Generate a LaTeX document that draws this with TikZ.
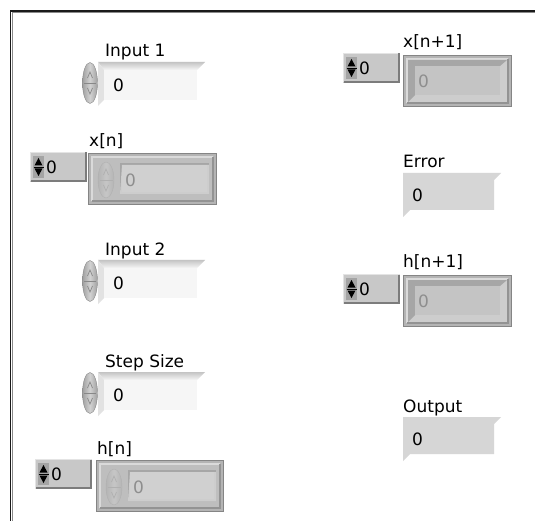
\documentclass[tikz,border=0pt]{standalone}
\usepackage{fontspec}
\setmainfont{DejaVu Sans}

% panel palette
\definecolor{panelline}{HTML}{1A1A1A}
\definecolor{panelgray}{HTML}{8A8A8A}
\definecolor{ctlfield}{HTML}{F6F6F6}
\definecolor{ctltop}{HTML}{C4C4C4}
\definecolor{ctlside}{HTML}{E2E2E2}
\definecolor{indfield}{HTML}{D6D6D6}
\definecolor{spinlight}{HTML}{D2D2D2}
\definecolor{spindark}{HTML}{A0A0A0}
\definecolor{spinedge}{HTML}{888888}
\definecolor{framefill}{HTML}{B4B4B4}
\definecolor{frameedge}{HTML}{858585}
\definecolor{framelight}{HTML}{DADADA}
\definecolor{framedark}{HTML}{939393}
\definecolor{framein}{HTML}{BEBEBE}
\definecolor{dimfield}{HTML}{D0D0D0}
\definecolor{dimtext}{HTML}{8E8E8E}
\definecolor{dimspin}{HTML}{C6C6C6}
\definecolor{dimspinedge}{HTML}{B0B0B0}
\definecolor{idxfill}{HTML}{C8C8C8}
\definecolor{idxcol}{HTML}{A4A4A4}
\definecolor{idxdark}{HTML}{7C7C7C}
\definecolor{idxlight}{HTML}{E4E4E4}
\definecolor{sunkdark}{HTML}{A6A6A6}
\definecolor{sunklight}{HTML}{CDCDCD}
\definecolor{sunkin}{HTML}{C4C4C4}

% spinner knob: centre x, centre y, x radius, y radius, light, dark, edge
\newcommand{\uiSpin}[7]{%
  \shade[left color=#6, right color=#6, middle color=#5, draw=#7]
    (#1,#2) ellipse [x radius=#3, y radius=#4];
  \draw[#7, line width=0.7pt] (#1-#3+1.5,#2) -- (#1+#3-1.5,#2);
  \draw[#7, line width=0.7pt] (#1-2.5,#2-5) -- (#1,#2-11) -- (#1+2.5,#2-5);
  \draw[#7, line width=0.7pt] (#1-2.5,#2+5) -- (#1,#2+11) -- (#1+2.5,#2+5);
}

% numeric control: name, top of field, label
\newcommand{\uiControl}[3]{%
  \node[lbl] (#1-lbl) at (105,#2-5) {#3};
  \shade[top color=ctltop, bottom color=ctlfield]
    (98,#2) -- (205,#2) -- (197,#2+8) -- (104,#2+8) -- cycle;
  \fill[ctlside] (98,#2) -- (104,#2+8) -- (104,#2+38) -- (98,#2+44) -- cycle;
  \fill[ctlfield] (104,#2+8) rectangle (197,#2+38);
  \uiSpin{90}{#2+21}{7.5}{20.5}{spinlight}{spindark}{spinedge}
  \node[val] (#1-val) at (113,#2+23) {0};
}

% numeric indicator: name, top of field, label
\newcommand{\uiIndicator}[3]{%
  \node[lbl] (#1-lbl) at (403,#2-5) {#3};
  \fill[indfield] (403,#2) -- (501,#2) -- (494,#2+7) -- (494,#2+37)
    -- (410,#2+37) -- (403,#2+44) -- cycle;
  \node[val] (#1-val) at (412,#2+22) {0};
}

% array index box: name, left, top
\newcommand{\uiIndex}[3]{%
  \fill[idxfill] (#2,#3) rectangle (#2+57,#3+30);
  \draw[idxlight] (#2+0.5,#3+29.5) -- (#2+0.5,#3+0.5) -- (#2+56.5,#3+0.5);
  \draw[idxdark, line width=1.5pt] (#2+56.2,#3+0.5) -- (#2+56.2,#3+29.2) -- (#2+0.5,#3+29.2);
  \fill[idxcol] (#2+3,#3+4) rectangle (#2+14,#3+26);
  \fill[black] (#2+4.5,#3+13.5) -- (#2+12.5,#3+13.5) -- (#2+8.5,#3+6) -- cycle;
  \fill[black] (#2+4.5,#3+16.5) -- (#2+12.5,#3+16.5) -- (#2+8.5,#3+24) -- cycle;
  \draw[black, line width=0.8pt] (#2+3.5,#3+15) -- (#2+13.5,#3+15);
  \node[val] (#1) at (#2+16,#3+15) {0};
}

% raised array frame: left, top, width
\newcommand{\uiFrame}[3]{%
  \fill[framefill] (#1,#2) rectangle (#1+#3,#2+52);
  \draw[frameedge] (#1+0.5,#2+0.5) rectangle (#1+#3-0.5,#2+51.5);
  \fill[framein] (#1+4,#2+4) rectangle (#1+#3-4,#2+48);
  \draw[framelight, line width=1.2pt] (#1+4,#2+48) -- (#1+4,#2+4) -- (#1+#3-4,#2+4);
  \draw[framedark, line width=1.2pt] (#1+4,#2+48) -- (#1+#3-4,#2+48) -- (#1+#3-4,#2+4);
}

% array of controls: name, left, top, width, label
\newcommand{\uiCtlArray}[5]{%
  \node[lbl] (#1-lbl) at (#2+1,#3-6) {#5};
  \uiFrame{#2}{#3}{#4}
  \uiSpin{#2+18}{#3+27}{8}{18}{dimspin}{dimspinedge!80!dimspin}{dimspinedge}
  \fill[sunkdark] (#2+32,#3+10) rectangle (#2+#4-8,#3+41);
  \fill[sunklight] (#2+34,#3+12) -- (#2+#4-8,#3+12) -- (#2+#4-8,#3+41) -- (#2+32,#3+41) -- cycle;
  \fill[dimfield] (#2+34,#3+12) rectangle (#2+#4-10,#3+39);
  \node[val, text=dimtext] (#1-val) at (#2+37,#3+27) {0};
}

% array of indicators: name, left, top, width, label
\newcommand{\uiIndArray}[5]{%
  \node[lbl] (#1-lbl) at (#2,#3-7) {#5};
  \uiFrame{#2}{#3}{#4}
  \fill[sunklight] (#2+5,#3+5) rectangle (#2+#4-5,#3+47);
  \fill[sunkdark] (#2+5,#3+5) -- (#2+#4-5,#3+5) -- (#2+#4-12,#3+11)
    -- (#2+12,#3+11) -- (#2+12,#3+40) -- (#2+5,#3+47) -- cycle;
  \fill[sunkin] (#2+12,#3+11) rectangle (#2+#4-12,#3+40);
  \node[val, text=dimtext] (#1-val) at (#2+15,#3+26) {0};
}

\begin{document}
\begin{tikzpicture}[x=1pt, y=-1pt,
  lbl/.style={anchor=base west, inner sep=0pt, font=\fontsize{17}{17}\selectfont},
  val/.style={anchor=west, inner sep=0pt, font=\fontsize{17}{17}\selectfont}]

  % canvas
  \fill[white] (0,0) rectangle (535,521);
  \useasboundingbox (0,0) rectangle (535,521);

  % panel edge, top and left
  \draw[panelgray, line width=1pt] (12,521) -- (12,12.5) -- (535,12.5);
  \draw[panelline, line width=1.3pt] (10.5,521) -- (10.5,11) -- (535,11);

  % left column: inputs and state arrays
  \uiControl{inA}{62}{Input 1}
  \uiIndex{xnIdx}{30}{152}
  \uiCtlArray{xn}{88}{153}{129}{x[n]}
  \uiControl{inB}{260}{Input 2}
  \uiControl{step}{372}{Step Size}
  \uiIndex{hnIdx}{35}{459}
  \uiCtlArray{hn}{96}{460}{128}{h[n]}

  % right column: outputs and next-state arrays
  \uiIndex{xnextIdx}{343}{53}
  \uiIndArray{xnext}{403}{55}{109}{x[n+1]}
  \uiIndicator{err}{173}{Error}
  \uiIndex{hnextIdx}{343}{274}
  \uiIndArray{hnext}{403}{275}{109}{h[n+1]}
  \uiIndicator{out}{417}{Output}
\end{tikzpicture}
\end{document}
